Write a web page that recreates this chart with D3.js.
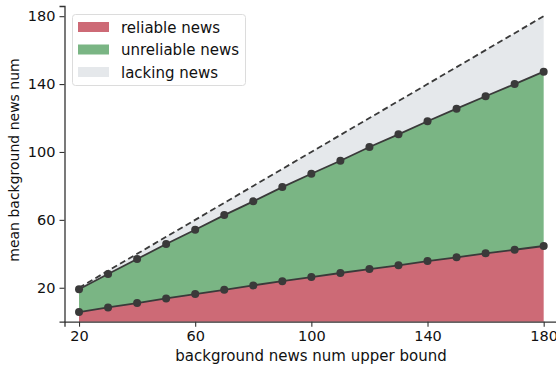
<!DOCTYPE html>
<html>
<head>
<meta charset="utf-8">
<script src="https://cdn.jsdelivr.net/npm/d3@7"></script>
<style>
  body { margin: 0; background: #fff; }
  svg text { font-family: "DejaVu Sans", sans-serif; fill: #111; }
</style>
</head>
<body>
<svg width="556" height="366"></svg>
<script>
var upperBounds = [20, 30, 40, 50, 60, 70, 80, 90, 100, 110, 120, 130, 140, 150, 160, 170, 180];
var reliable = [5.7, 8.4, 11.0, 13.7, 16.3, 18.8, 21.4, 23.9, 26.3, 28.7, 31.0, 33.2, 35.7, 37.9, 40.3, 42.4, 44.6];
var total = [19.1, 28.1, 36.9, 45.8, 54.2, 62.8, 70.9, 79.3, 87.2, 94.8, 102.9, 110.4, 118.1, 125.5, 132.8, 140.0, 147.3];
var tickVals = [20, 60, 100, 140, 180];
var legendNames = ["reliable news", "unreliable news", "lacking news"];
var colors = ["#cd6a76", "#7ab584", "#e5e8eb"];

var svg = d3.select("svg");

var x = d3.scaleLinear().domain([15, 185]).range([64.5, 558.2]);
var y = d3.scaleLinear().domain([0, 186]).range([321.7, 6]);

var rows = upperBounds.map(function(b, i) {
    return {b: b, r: reliable[i], t: total[i]};
});

// fills
var area = d3.area().x(function(d) { return x(d.b); });
svg.append("path").datum(rows)
    .attr("fill", colors[2])
    .attr("d", area.y0(function(d) { return y(d.t); }).y1(function(d) { return y(d.b); }));
svg.append("path").datum(rows)
    .attr("fill", colors[1])
    .attr("d", area.y0(function(d) { return y(d.r); }).y1(function(d) { return y(d.t); }));
svg.append("path").datum(rows)
    .attr("fill", colors[0])
    .attr("d", area.y0(function(d) { return y(0); }).y1(function(d) { return y(d.r); }));

// dashed diagonal (upper bound itself)
svg.append("path").datum(rows)
    .attr("fill", "none")
    .attr("stroke", "#3a3a3a")
    .attr("stroke-width", 1.8)
    .attr("stroke-dasharray", "6,3.5")
    .attr("d", d3.line().x(function(d) { return x(d.b); }).y(function(d) { return y(d.b); }));

["r", "t"].forEach(function(k) {
    svg.append("path").datum(rows)
        .attr("fill", "none")
        .attr("stroke", "#3a3a3a")
        .attr("stroke-width", 1.8)
        .attr("d", d3.line().x(function(d) { return x(d.b); }).y(function(d) { return y(d[k]); }));
    svg.append("g").selectAll("circle")
        .data(rows)
        .enter().append("circle")
        .attr("cx", function(d) { return x(d.b); })
        .attr("cy", function(d) { return y(d[k]); })
        .attr("r", 4)
        .attr("fill", "#3a3a3a");
});

// axes
var xAxis = svg.append("g")
    .attr("transform", "translate(0," + y(0) + ")")
    .call(d3.axisBottom(x).tickValues(tickVals).tickSize(5).tickPadding(4));
var yAxis = svg.append("g")
    .attr("transform", "translate(" + x(15) + ",0)")
    .call(d3.axisLeft(y).tickValues(tickVals).tickSize(5).tickPadding(4));
[xAxis, yAxis].forEach(function(a) {
    a.selectAll("text").style("font-size", "14.5px").attr("fill", "#111");
    a.selectAll("line").attr("stroke", "#333").attr("stroke-width", 1.1);
    a.select(".domain").attr("stroke", "#333").attr("stroke-width", 1.3);
});

svg.append("text")
    .attr("x", 311).attr("y", 361)
    .attr("text-anchor", "middle")
    .style("font-size", "15px")
    .text("background news num upper bound");
svg.append("text")
    .attr("transform", "translate(19,160) rotate(-90)")
    .attr("text-anchor", "middle")
    .style("font-size", "14px")
    .text("mean background news num");

// legend
var legend = svg.append("g");
legend.append("rect")
    .attr("x", 72.5).attr("y", 14.5).attr("width", 173).attr("height", 71).attr("rx", 3)
    .attr("fill", "#fff").attr("fill-opacity", 0.85)
    .attr("stroke", "#dcdcdc");
legendNames.forEach(function(n, i) {
    var ly = 27 + i * 22.5;
    legend.append("rect")
        .attr("x", 78).attr("y", ly - 5).attr("width", 31).attr("height", 10)
        .attr("fill", colors[i]);
    legend.append("text")
        .attr("x", 121).attr("y", ly + 5.5)
        .style("font-size", "15px")
        .text(n);
});
</script>
</body>
</html>
